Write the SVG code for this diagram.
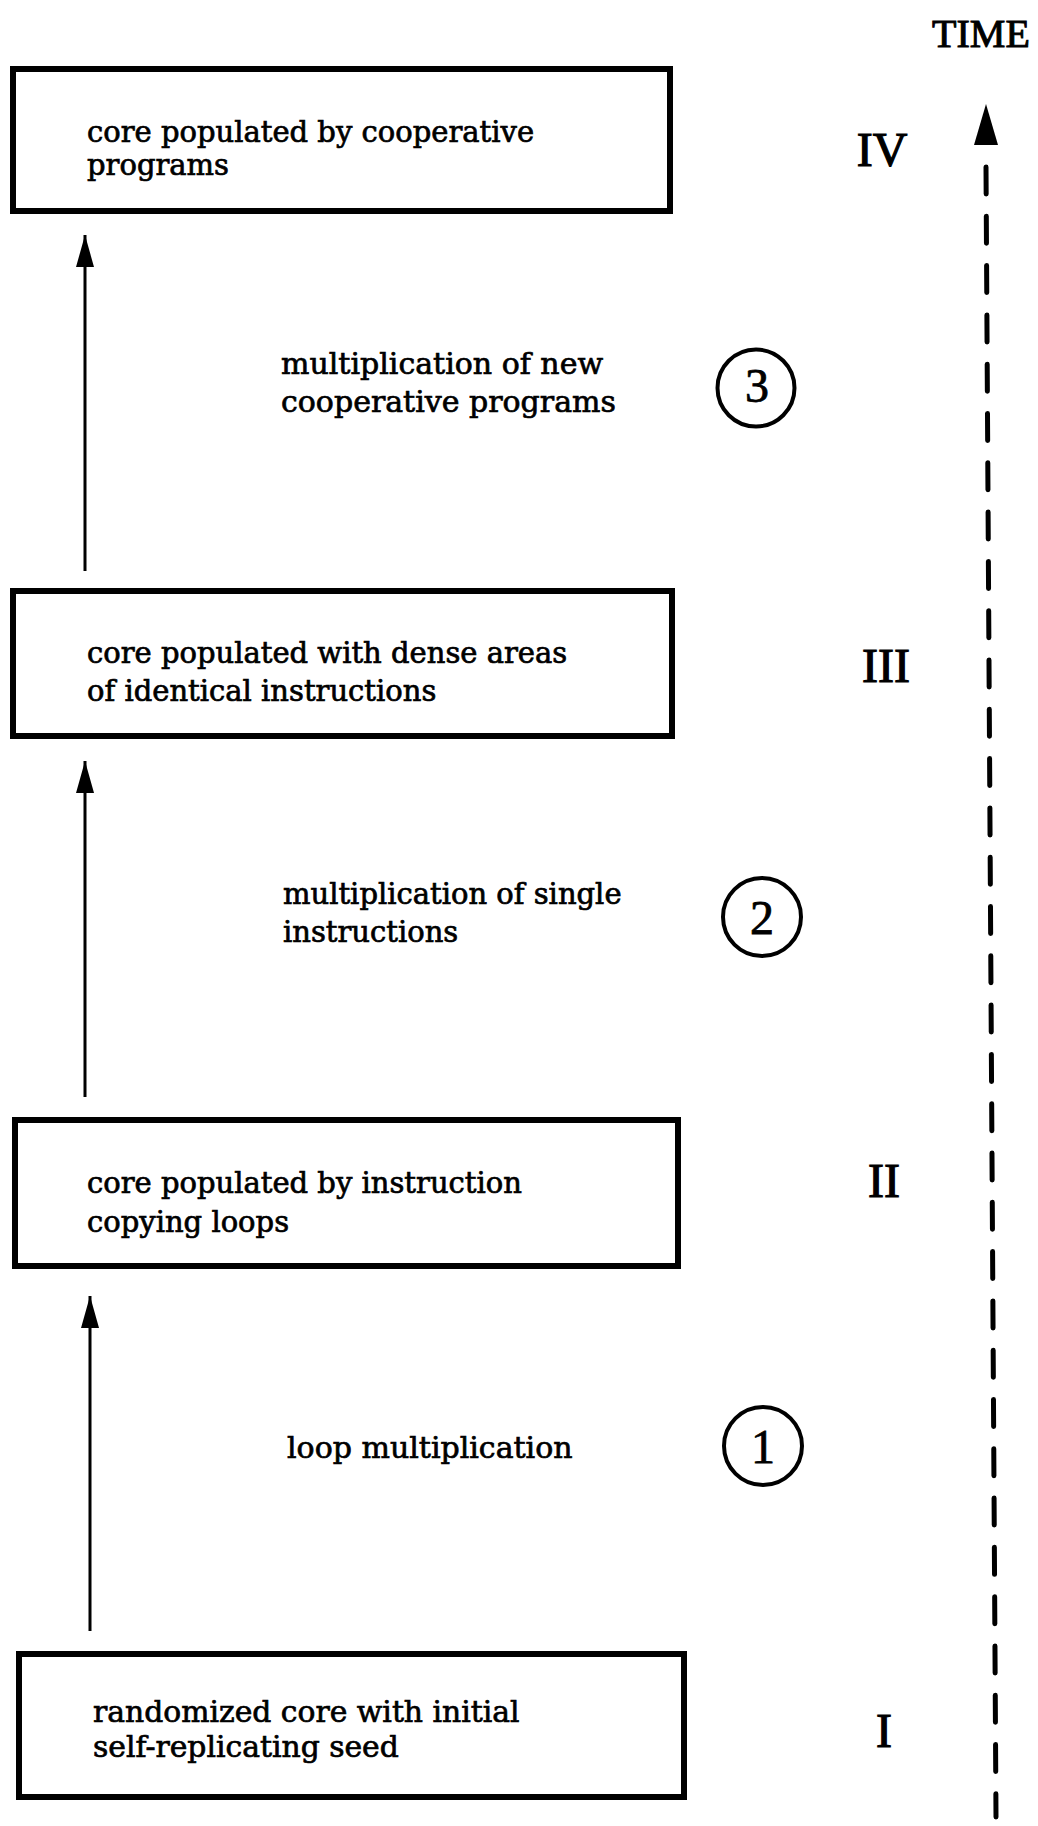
<svg xmlns="http://www.w3.org/2000/svg" width="1038" height="1826" viewBox="0 0 1038 1826">
  <style>
    .box { fill: #fff; stroke: #000; stroke-width: 6; }
    .txt { font-family: "DejaVu Serif", "Liberation Serif", serif; font-size: 29px; fill: #000; stroke: #000; stroke-width: 0.7; }
    .roman { font-family: "Liberation Serif", "Times New Roman", serif; font-size: 48px; fill: #000; stroke: #000; stroke-width: 1.2; text-anchor: middle; }
    .num { font-family: "Liberation Serif", "Times New Roman", serif; font-size: 48px; fill: #000; stroke: #000; stroke-width: 0.8; text-anchor: middle; }
    .circ { fill: none; stroke: #000; stroke-width: 4; }
    .arrow { stroke: #000; stroke-width: 3; fill: none; marker-end: url(#ah); }
    .timeline { stroke: #000; stroke-width: 5; fill: none; stroke-dasharray: 27 22.3; stroke-linecap: round; }
  </style>
  <defs>
    <marker id="ah" markerWidth="32" markerHeight="18" refX="32" refY="9" orient="auto" markerUnits="userSpaceOnUse">
      <path d="M0,0 L32,9 L0,18 z" fill="#000"/>
    </marker>
  </defs>
  <rect width="1038" height="1826" fill="#fff"/>

  <g id="node-IV">
    <rect class="box" x="13" y="69" width="657" height="142"/>
    <text class="txt" x="87" y="142">core populated by cooperative</text>
    <text class="txt" x="87" y="175">programs</text>
  </g>
  <g id="node-III">
    <rect class="box" x="13" y="591" width="659" height="145"/>
    <text class="txt" x="87" y="663">core populated with dense areas</text>
    <text class="txt" x="87" y="701">of identical instructions</text>
  </g>
  <g id="node-II">
    <rect class="box" x="15" y="1120" width="663" height="146"/>
    <text class="txt" x="87" y="1193">core populated by instruction</text>
    <text class="txt" x="87" y="1232">copying loops</text>
  </g>
  <g id="node-I">
    <rect class="box" x="19" y="1654" width="665" height="143"/>
    <text class="txt" x="93" y="1722" style="font-size:29.8px">randomized core with initial</text>
    <text class="txt" x="93" y="1757" style="font-size:29.8px">self-replicating seed</text>
  </g>

  <g id="connectors">
    <line class="arrow" x1="90" y1="1631" x2="90" y2="1296"/>
    <line class="arrow" x1="85" y1="1097" x2="85" y2="761"/>
    <line class="arrow" x1="85" y1="571" x2="85" y2="235"/>
  </g>

  <g id="label-1">
    <text class="txt" x="287" y="1458" style="font-size:30px">loop multiplication</text>
    <circle class="circ" cx="763" cy="1446" r="39"/>
    <text class="num" x="763" y="1463">1</text>
  </g>
  <g id="label-2">
    <text class="txt" x="283" y="904">multiplication of single</text>
    <text class="txt" x="283" y="942">instructions</text>
    <circle class="circ" cx="762" cy="917" r="39"/>
    <text class="num" x="762" y="934">2</text>
  </g>
  <g id="label-3">
    <text class="txt" x="281" y="374" style="font-size:30px">multiplication of new</text>
    <text class="txt" x="281" y="412" style="font-size:30px">cooperative programs</text>
    <circle class="circ" cx="756" cy="388" r="38.5"/>
    <text class="num" x="757" y="402">3</text>
  </g>

  <g id="stages">
    <text class="roman" x="882" y="166">IV</text>
    <text class="roman" x="886" y="682">III</text>
    <text class="roman" x="884" y="1197">II</text>
    <text class="roman" x="884" y="1747">I</text>
  </g>

  <g id="time-axis">
    <text x="981" y="47" font-family="Liberation Serif, Times New Roman, serif" font-size="40" text-anchor="middle" fill="#000" stroke="#000" stroke-width="1">TIME</text>
    <polygon points="986,104 998,145 974,145" fill="#000"/>
    <line class="timeline" x1="986" y1="167" x2="996" y2="1817"/>
  </g>
</svg>
